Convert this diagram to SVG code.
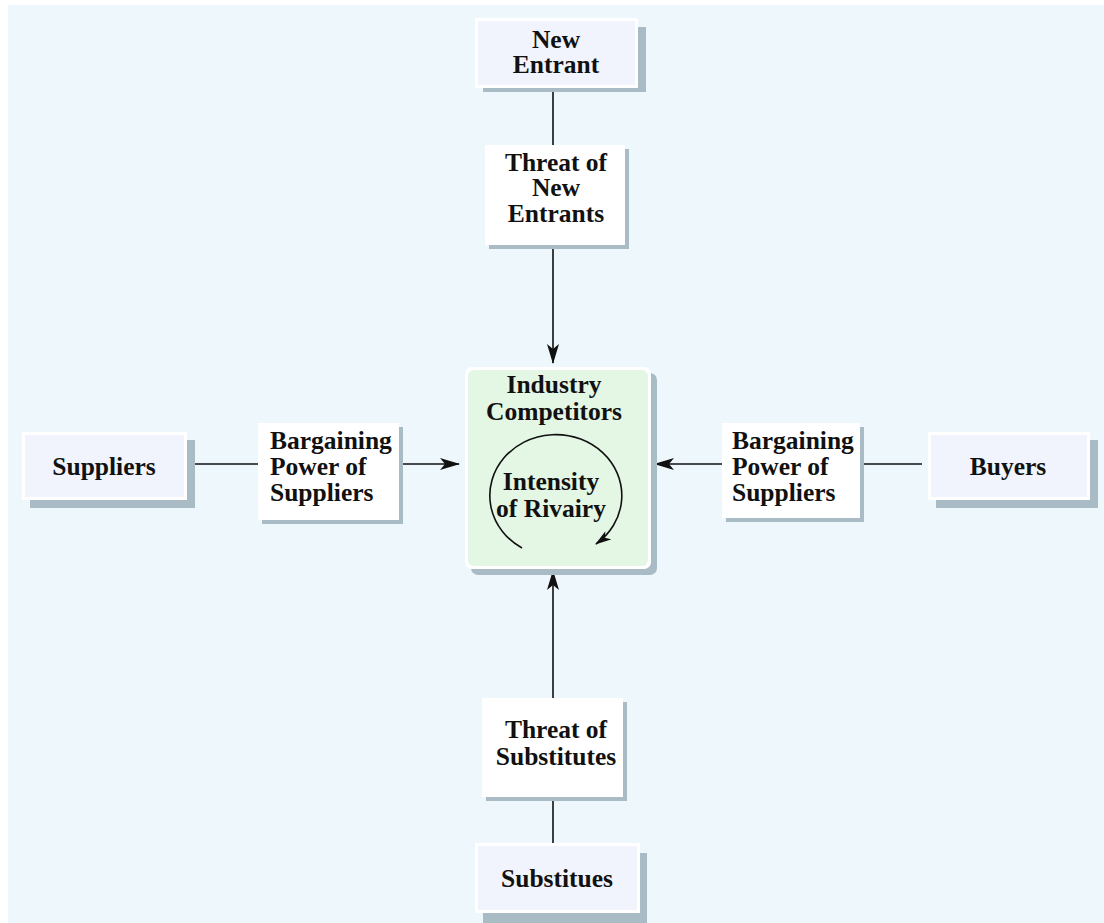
<svg xmlns="http://www.w3.org/2000/svg" width="1104" height="923" viewBox="0 0 1104 923">
<defs>
<marker id="ah" viewBox="0 0 20 12" refX="19" refY="6" markerWidth="20" markerHeight="12" markerUnits="userSpaceOnUse" orient="auto">
<path d="M0,0 L20,6 L0,12 L5,6 Z" fill="#111"/>
</marker>
<marker id="ah2" viewBox="0 0 16 10" refX="15" refY="5" markerWidth="16" markerHeight="10" markerUnits="userSpaceOnUse" orient="auto">
<path d="M0,0 L16,5 L0,10 L4,5 Z" fill="#111"/>
</marker>
<style>
.t{font-family:"Liberation Serif","Times New Roman",serif;font-weight:bold;font-size:25.5px;fill:#111}
.c{text-anchor:middle}
.sh{fill:#a9bcc6}
.lt{fill:#f1f4fc}
.wh{fill:#ffffff}
.ln{stroke:#111;stroke-width:1.6;fill:none}
</style>
</defs>
<rect x="0" y="0" width="1104" height="923" fill="#ffffff"/>
<rect x="8" y="5" width="1096" height="918" fill="#eef7fb"/>

<g id="connectors">
<line class="ln" x1="553" y1="92" x2="553" y2="145"/>
<line class="ln" x1="553" y1="248" x2="553" y2="363" marker-end="url(#ah)"/>
<line class="ln" x1="553" y1="800" x2="553" y2="843"/>
<line class="ln" x1="553" y1="698" x2="553" y2="571" marker-end="url(#ah)"/>
<line class="ln" x1="195" y1="464" x2="258" y2="464"/>
<line class="ln" x1="402" y1="464" x2="459" y2="464" marker-end="url(#ah)"/>
<line class="ln" x1="722" y1="464" x2="655" y2="464" marker-end="url(#ah)"/>
<line class="ln" x1="864" y1="464" x2="922" y2="464"/>
</g>

<g id="new-entrant">
<rect class="sh" x="483" y="27" width="163" height="65"/>
<rect class="wh" x="475" y="18" width="163" height="70"/>
<rect class="lt" x="478" y="21" width="157" height="64"/>
<text class="t c" x="556" y="48">New</text>
<text class="t c" x="556" y="73">Entrant</text>
</g>

<g id="threat-new-entrants">
<rect class="sh" x="489" y="149" width="140" height="100"/>
<rect class="wh" x="485" y="145" width="140" height="100"/>
<text class="t c" x="556" y="171">Threat of</text>
<text class="t c" x="556" y="196">New</text>
<text class="t c" x="556" y="222">Entrants</text>
</g>

<g id="industry-competitors">
<rect class="sh" x="471" y="373" width="186" height="202" rx="7"/>
<rect x="465" y="367" width="186" height="202" rx="7" fill="#ffffff"/>
<rect x="468" y="370" width="180" height="196" rx="6" fill="#e4f6e4"/>
<text class="t c" x="554" y="393">Industry</text>
<text class="t c" x="554" y="420">Competitors</text>
<path class="ln" d="M522,548 A66,61 0 1 1 596,544" marker-end="url(#ah2)"/>
<text class="t c" x="551" y="490">Intensity</text>
<text class="t c" x="551" y="517">of Rivairy</text>
</g>

<g id="suppliers">
<rect class="sh" x="30" y="440" width="165" height="68"/>
<rect class="wh" x="22" y="432" width="165" height="68"/>
<rect class="lt" x="25" y="435" width="159" height="62"/>
<text class="t c" x="104" y="475">Suppliers</text>
</g>

<g id="bargaining-suppliers-left">
<rect class="sh" x="262" y="427" width="141" height="97"/>
<rect class="wh" x="258" y="423" width="141" height="97"/>
<text class="t" x="270" y="449">Bargaining</text>
<text class="t" x="270" y="475">Power of</text>
<text class="t" x="270" y="501">Suppliers</text>
</g>

<g id="bargaining-suppliers-right">
<rect class="sh" x="726" y="427" width="138" height="95"/>
<rect class="wh" x="722" y="423" width="138" height="95"/>
<text class="t" x="732" y="449">Bargaining</text>
<text class="t" x="732" y="475">Power of</text>
<text class="t" x="732" y="501">Suppliers</text>
</g>

<g id="buyers">
<rect class="sh" x="936" y="440" width="162" height="68"/>
<rect class="wh" x="928" y="432" width="162" height="68"/>
<rect class="lt" x="931" y="435" width="156" height="62"/>
<text class="t c" x="1008" y="475">Buyers</text>
</g>

<g id="threat-substitutes">
<rect class="sh" x="486" y="702" width="141" height="99"/>
<rect class="wh" x="482" y="698" width="141" height="99"/>
<text class="t c" x="556" y="738">Threat of</text>
<text class="t c" x="556" y="765">Substitutes</text>
</g>

<g id="substitues">
<rect class="sh" x="483" y="853" width="164" height="70"/>
<rect class="wh" x="475" y="843" width="165" height="70"/>
<rect class="lt" x="478" y="846" width="159" height="64"/>
<text class="t c" x="557" y="887">Substitues</text>
</g>
</svg>
